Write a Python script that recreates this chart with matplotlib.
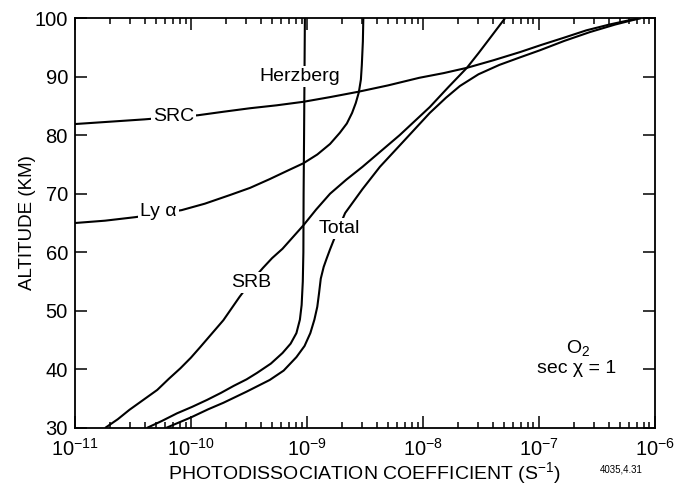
import matplotlib

matplotlib.use("Agg")
import matplotlib.pyplot as plt
from matplotlib.ticker import FixedLocator, LogLocator, NullFormatter

plt.rcParams["font.family"] = ["Liberation Sans", "DejaVu Sans"]
plt.rcParams["mathtext.fontset"] = "custom"
plt.rcParams["mathtext.rm"] = "Liberation Sans"
plt.rcParams["mathtext.default"] = "regular"

# curves: log10(J) and altitude (km)
src_logj = [-11.0, -10.7, -10.4, -10.15, -9.94, -9.72, -9.49, -9.26, -9.03, -8.80, -8.56, -8.30,
            -8.03, -7.82, -7.62, -7.39, -7.16, -6.98, -6.79, -6.59, -6.39, -6.25, -6.12]
src_alt = [81.9, 82.3, 82.7, 83.1, 83.4, 84.0, 84.6, 85.1, 85.7, 86.5, 87.4, 88.5,
           89.8, 90.6, 91.5, 92.8, 94.2, 95.4, 96.6, 97.9, 98.9, 99.5, 100.0]

lya_logj = [-11.0, -10.74, -10.48, -10.27, -10.08, -9.88, -9.66, -9.49, -9.32, -9.16, -9.03, -8.91,
            -8.80, -8.716, -8.655, -8.61, -8.578, -8.552, -8.534, -8.526, -8.517, -8.513]
lya_alt = [65.0, 65.4, 66.0, 66.6, 67.2, 68.3, 69.8, 71.0, 72.5, 74.0, 75.2, 76.7,
           78.5, 80.4, 82.0, 83.8, 85.5, 87.3, 89.5, 92.0, 96.0, 100.0]

herz_logj = [-10.38, -10.25, -10.12, -9.99, -9.86, -9.74, -9.63, -9.52, -9.43, -9.31, -9.21, -9.14,
             -9.09, -9.06, -9.045, -9.035, -9.03, -9.028, -9.024, -9.017]
herz_alt = [30.0, 31.2, 32.5, 33.6, 34.8, 36.0, 37.2, 38.3, 39.4, 41.0, 42.8, 44.4,
            46.2, 48.5, 51.0, 55.0, 60.0, 70.0, 80.0, 100.0]

srb_logj = [-10.74, -10.63, -10.53, -10.41, -10.29, -10.19, -10.09, -10.0, -9.92, -9.82, -9.72, -9.65,
            -9.58, -9.48, -9.38, -9.30, -9.21, -9.12, -9.03, -8.92, -8.80, -8.66, -8.52, -8.36,
            -8.20, -8.07, -7.94, -7.78, -7.62, -7.52, -7.42, -7.29]
srb_alt = [30.0, 31.5, 33.1, 34.8, 36.5, 38.4, 40.2, 42.0, 43.8, 46.1, 48.4, 50.4,
           52.4, 55.0, 57.3, 59.0, 60.6, 62.6, 64.6, 67.3, 70.0, 72.4, 74.6, 77.3,
           80.0, 82.4, 84.8, 88.2, 91.5, 94.0, 96.6, 100.0]

tot_logj = [-10.215, -10.0, -9.85, -9.72, -9.52, -9.32, -9.20, -9.09, -9.02, -8.97, -8.935, -8.91,
            -8.895, -8.88, -8.855, -8.83, -8.80, -8.76, -8.67, -8.52, -8.37, -8.15, -7.94, -7.80,
            -7.68, -7.52, -7.34, -7.16, -6.99, -6.78, -6.56, -6.34, -6.12]
tot_alt = [30.0, 31.8, 33.2, 34.3, 36.2, 38.2, 39.8, 42.1, 44.0, 46.2, 48.5, 50.7,
           53.0, 55.5, 57.5, 58.9, 60.5, 62.5, 66.7, 70.8, 74.6, 79.3, 83.8, 86.4,
           88.4, 90.4, 92.0, 93.3, 94.5, 96.1, 97.6, 98.9, 100.0]

curves = [
    (src_logj, src_alt),
    (lya_logj, lya_alt),
    (herz_logj, herz_alt),
    (srb_logj, srb_alt),
    (tot_logj, tot_alt),
]

# label text, log10(J), altitude
labels = [
    ("SRC", -10.15, 83.2),
    ("Ly α", -10.28, 66.9),
    ("Herzberg", -9.06, 90.0),
    ("SRB", -9.48, 54.9),
    ("Total", -8.72, 64.1),
]

x_ticks = [1e-11, 1e-10, 1e-9, 1e-8, 1e-7, 1e-6]
x_tick_labels = ["10$^{-11}$", "10$^{-10}$", "10$^{-9}$", "10$^{-8}$", "10$^{-7}$", "10$^{-6}$"]
y_ticks = [30, 40, 50, 60, 70, 80, 90, 100]

fig = plt.figure(figsize=(6.75, 4.88), dpi=100)
ax = fig.add_axes([0.111, 0.123, 0.859, 0.840])

for logj, alt in curves:
    ax.plot([10 ** v for v in logj], alt, color="black", lw=1.5, solid_capstyle="butt", zorder=2)

for text, lx, alt in labels:
    ax.text(10 ** lx, alt, text, ha="center", va="center", fontsize=14, zorder=3,
            bbox=dict(facecolor="white", edgecolor="none", pad=1.5))

ax.text(10 ** -6.66, 43.6, "O$_2$", ha="center", va="center", fontsize=14)
ax.text(10 ** -6.67, 40.2, "sec χ = 1", ha="center", va="center", fontsize=14)

ax.set_xscale("log")
ax.set_xlim(1e-11, 1e-6)
ax.set_ylim(30, 100)
ax.xaxis.set_major_locator(FixedLocator(x_ticks))
ax.set_xticklabels(x_tick_labels)
ax.xaxis.set_minor_locator(LogLocator(base=10, subs=range(2, 10)))
ax.xaxis.set_minor_formatter(NullFormatter())
ax.set_yticks(y_ticks)

ax.tick_params(which="both", direction="in", top=True, right=True, width=1.1, labelsize=14.5)
ax.tick_params(which="major", length=8.5, pad=5)
ax.tick_params(which="minor", length=4.5)
ax.tick_params(axis="x", pad=7.5)
for spine in ax.spines.values():
    spine.set_linewidth(1.3)

ax.set_xlabel("PHOTODISSOCIATION COEFFICIENT (S$^{-1}$)", fontsize=14, labelpad=0)
ax.set_ylabel("ALTITUDE (KM)", fontsize=13.5, labelpad=-1)
fig.text(0.92, 0.037, "4035,4.31", fontsize=7, ha="center", va="center")

fig.savefig("out.png", dpi=100)
